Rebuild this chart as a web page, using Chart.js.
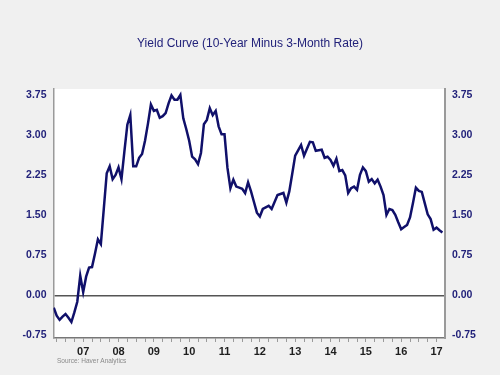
<!DOCTYPE html>
<html>
<head>
<meta charset="utf-8">
<script src="https://cdn.jsdelivr.net/npm/chart.js@4.4.1/dist/chart.umd.min.js"></script>
<style>
  html, body { margin: 0; padding: 0; background: #f0f0f0; }
  #wrap { width: 500px; height: 375px; }
</style>
</head>
<body>
<div id="wrap"><canvas id="yieldChart"></canvas></div>
<script>
// Monthly spread, 10-year minus 3-month (%), Sep 2006 .. Sep 2017
const startYear = 2006;
const startMonth = 9;
const spread = [
  -0.23, -0.38, -0.46, -0.40,                                              // 2006
  -0.35, -0.42, -0.50, -0.32, -0.12, 0.37, 0.06, 0.35, 0.52, 0.53, 0.78, 1.05, // 2007
  0.96, 1.62, 2.29, 2.42, 2.18, 2.26, 2.40, 2.18, 2.70, 3.20, 3.38, 2.42,  // 2008
  2.42, 2.58, 2.65, 2.90, 3.22, 3.58, 3.46, 3.48, 3.33, 3.36, 3.42, 3.60,  // 2009
  3.75, 3.67, 3.67, 3.76, 3.32, 3.12, 2.90, 2.60, 2.55, 2.46, 2.67, 3.21,  // 2010
  3.29, 3.51, 3.38, 3.46, 3.17, 3.02, 3.02, 2.39, 2.01, 2.17, 2.04, 2.02,  // 2011
  2.00, 1.92, 2.12, 1.95, 1.75, 1.55, 1.48, 1.62, 1.65, 1.68, 1.62, 1.75,  // 2012
  1.88, 1.90, 1.92, 1.74, 1.95, 2.28, 2.62, 2.72, 2.82, 2.62, 2.75, 2.88,  // 2013
  2.87, 2.71, 2.72, 2.73, 2.58, 2.60, 2.54, 2.43, 2.56, 2.33, 2.35, 2.25,  // 2014
  1.92, 2.01, 2.04, 1.98, 2.26, 2.40, 2.33, 2.13, 2.18, 2.10, 2.17, 2.04,  // 2015
  1.88, 1.51, 1.62, 1.60, 1.51, 1.37, 1.24, 1.28, 1.32, 1.46, 1.73, 2.02,  // 2016
  1.96, 1.94, 1.73, 1.52, 1.43, 1.23, 1.27, 1.22, 1.18                     // 2017
];
const yTicks = [-0.75, 0, 0.75, 1.5, 2.25, 3, 3.75];
const years = [2007, 2008, 2009, 2010, 2011, 2012, 2013, 2014, 2015, 2016, 2017];

const navy = "#22227a";
const lineColor = "#10106a";
const axisGrey = "#9a9a9a";

// x as decimal year, one point per month
const points = spread.map((v, i) => ({ x: startYear + (startMonth - 1 + i) / 12, y: v }));

// quarter tick marks along the bottom
const quarterTicks = [];
for (let y = startYear; y <= 2017; y++) {
  for (let q = 0; q < 4; q++) {
    const v = y + q / 4;
    if (v > 2006.7 && v < 2017.74) quarterTicks.push({ value: v });
  }
}

const backdrop = {
  id: "backdrop",
  beforeDraw(chart) {
    const { ctx, chartArea: a } = chart;
    ctx.save();
    ctx.fillStyle = "#f0f0f0";
    ctx.fillRect(0, 0, chart.width, chart.height);
    ctx.fillStyle = "#ffffff";
    ctx.fillRect(a.left, a.top, a.right - a.left, a.bottom - a.top);
    ctx.restore();
  },
  afterDraw(chart) {
    const ctx = chart.ctx;
    ctx.save();
    ctx.fillStyle = navy;
    ctx.font = "12px Arial, 'Liberation Sans', sans-serif";
    ctx.textAlign = "center";
    ctx.textBaseline = "middle";
    ctx.fillText("Yield Curve (10-Year Minus 3-Month Rate)", 250, 44);
    ctx.fillStyle = "#8a8a8a";
    ctx.font = "6.5px Arial, 'Liberation Sans', sans-serif";
    ctx.textAlign = "left";
    ctx.fillText("Source: Haver Analytics", 57, 361);
    ctx.restore();
  }
};

const yScaleBase = {
  type: "linear",
  min: -0.8,
  max: 3.87,
  afterBuildTicks: s => { s.ticks = yTicks.map(v => ({ value: v })); },
  ticks: {
    color: navy,
    font: { family: "Arial, 'Liberation Sans', sans-serif", size: 10.5, weight: "bold" },
    padding: 7,
    callback: v => v.toFixed(2)
  }
};

new Chart(document.getElementById("yieldChart"), {
  type: "line",
  data: {
    datasets: [{
      label: "10Y - 3M",
      data: points,
      borderColor: lineColor,
      borderWidth: 2.5,
      pointRadius: 0,
      tension: 0,
      yAxisID: "y"
    }]
  },
  options: {
    responsive: true,
    maintainAspectRatio: false,
    animation: false,
    layout: { padding: { top: 89, left: 0, right: 0, bottom: 0 } },
    plugins: {
      legend: { display: false },
      tooltip: { enabled: false }
    },
    scales: {
      x: {
        type: "linear",
        min: 2006.66,
        max: 2017.74,
        afterBuildTicks: s => { s.ticks = quarterTicks.slice(); },
        afterFit: s => { s.height = 37; },
        grid: { drawOnChartArea: false, drawTicks: true, tickLength: 4, color: axisGrey },
        border: { color: "#777777", width: 1.5 },
        ticks: {
          autoSkip: false,
          maxRotation: 0,
          color: "#1e1e1e",
          padding: 3,
          font: { family: "Arial, 'Liberation Sans', sans-serif", size: 11, weight: "bold" },
          callback: v => {
            const yr = Math.floor(v);
            if (Math.abs(v - yr - 0.5) > 1e-6 || !years.includes(yr)) return "";
            return String(yr % 100).padStart(2, "0");
          }
        }
      },
      y: Object.assign({}, yScaleBase, {
        position: "left",
        afterFit: s => { s.width = 53.5; },
        grid: {
          drawTicks: false,
          lineWidth: 1.5,
          color: c => (c.tick && c.tick.value === 0 ? "#555555" : "rgba(0,0,0,0)")
        },
        border: { color: axisGrey, width: 1.5 }
      }),
      y2: Object.assign({}, yScaleBase, {
        position: "right",
        afterFit: s => { s.width = 55; },
        grid: { display: false, drawTicks: false },
        border: { color: axisGrey, width: 2 }
      })
    }
  },
  plugins: [backdrop]
});
</script>
</body>
</html>
